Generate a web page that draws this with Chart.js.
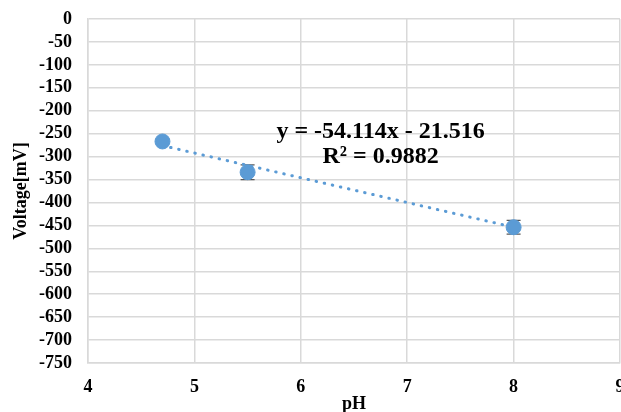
<!DOCTYPE html>
<html>
<head>
<meta charset="utf-8">
<script src="https://cdn.jsdelivr.net/npm/chart.js@4"></script>
<style>
  html, body { margin: 0; padding: 0; background: #fff; overflow: hidden; }
  canvas { display: block; }
</style>
</head>
<body>
<canvas id="phChart" width="621" height="412"></canvas>
<script>
// data
const phValues = [4.7, 5.5, 8];
const voltages = [-267, -334, -454];
const voltErrors = [5, 16, 15];
const trendX = [4.7, 8];
const trendY = [-276, -454];
const yTicks = { min: -750, max: 0, step: 50 };
const xTicks = { min: 4, max: 9, step: 1 };
const equationLines = ['y = -54.114x - 21.516', 'R\u00B2 = 0.9882'];

const blue = '#5B9BD5';
const gridGrey = '#d9d9d9';
const serif = '"Liberation Serif", "Times New Roman", serif';

// error bars, behind the markers
const errorBars = {
  id: 'errorBars',
  beforeDatasetsDraw(chart) {
    const ctx = chart.ctx;
    const xs = chart.scales.x, ys = chart.scales.y;
    ctx.save();
    ctx.strokeStyle = '#595959';
    ctx.lineWidth = 1.2;
    phValues.forEach((ph, i) => {
      const px = xs.getPixelForValue(ph);
      const top = ys.getPixelForValue(voltages[i] + voltErrors[i]);
      const bot = ys.getPixelForValue(voltages[i] - voltErrors[i]);
      ctx.beginPath();
      ctx.moveTo(px, top); ctx.lineTo(px, bot);
      ctx.moveTo(px - 7, top); ctx.lineTo(px + 7, top);
      ctx.moveTo(px - 7, bot); ctx.lineTo(px + 7, bot);
      ctx.stroke();
    });
    ctx.restore();
  }
};

// trendline equation label
const equation = {
  id: 'equation',
  afterDatasetsDraw(chart) {
    const ctx = chart.ctx;
    const xs = chart.scales.x, ys = chart.scales.y;
    ctx.save();
    ctx.font = 'bold 24px ' + serif;
    ctx.fillStyle = '#000';
    ctx.textAlign = 'center';
    ctx.textBaseline = 'middle';
    const cx = xs.getPixelForValue(6.75);
    ctx.fillText(equationLines[0], cx, ys.getPixelForValue(-246));
    ctx.fillText(equationLines[1], cx, ys.getPixelForValue(-301));
    ctx.restore();
  }
};

new Chart(document.getElementById('phChart'), {
  type: 'scatter',
  data: {
    datasets: [{
      label: 'Voltage',
      data: phValues.map((x, i) => ({ x: x, y: voltages[i] })),
      backgroundColor: blue,
      borderColor: blue,
      pointRadius: 7.5,
      pointHoverRadius: 7.5,
      showLine: false
    }, {
      label: 'Trend',
      type: 'line',
      data: trendX.map((x, i) => ({ x: x, y: trendY[i] })),
      borderColor: blue,
      borderWidth: 3,
      borderDash: [0.5, 7.8],
      borderCapStyle: 'round',
      pointRadius: 0,
      fill: false
    }]
  },
  options: {
    responsive: false,
    animation: false,
    layout: {
      autoPadding: false,
      padding: { top: 19, right: 1, bottom: 0, left: 0 }
    },
    plugins: {
      legend: { display: false },
      tooltip: { enabled: false }
    },
    scales: {
      x: {
        type: 'linear',
        min: xTicks.min,
        max: xTicks.max,
        ticks: {
          stepSize: xTicks.step,
          color: '#000',
          padding: 14,
          font: { family: serif, size: 18, weight: 'bold' }
        },
        grid: { color: gridGrey, lineWidth: 1.5, drawTicks: false },
        border: { color: gridGrey, width: 1.5 },
        title: {
          display: true,
          text: 'pH',
          color: '#000',
          padding: { top: 0, bottom: 0 },
          font: { family: serif, size: 18, weight: 'bold', lineHeight: 0.8 }
        },
        afterFit(scale) {
          scale.height = 49;
          scale.paddingLeft = 0;
          scale.paddingRight = 0;
        }
      },
      y: {
        min: yTicks.min,
        max: yTicks.max,
        ticks: {
          stepSize: yTicks.step,
          autoSkip: false,
          color: '#000',
          padding: 16,
          font: { family: serif, size: 18, weight: 'bold' }
        },
        grid: { color: gridGrey, lineWidth: 1.5, drawTicks: false },
        border: { color: gridGrey, width: 1.5 },
        title: {
          display: true,
          text: 'Voltage[mV]',
          color: '#000',
          padding: { top: 11, bottom: 0 },
          font: { family: serif, size: 18, weight: 'bold' }
        },
        afterFit(scale) {
          scale.width = 88;
          scale.paddingTop = 0;
          scale.paddingBottom = 0;
        }
      }
    }
  },
  plugins: [errorBars, equation]
});
</script>
</body>
</html>
